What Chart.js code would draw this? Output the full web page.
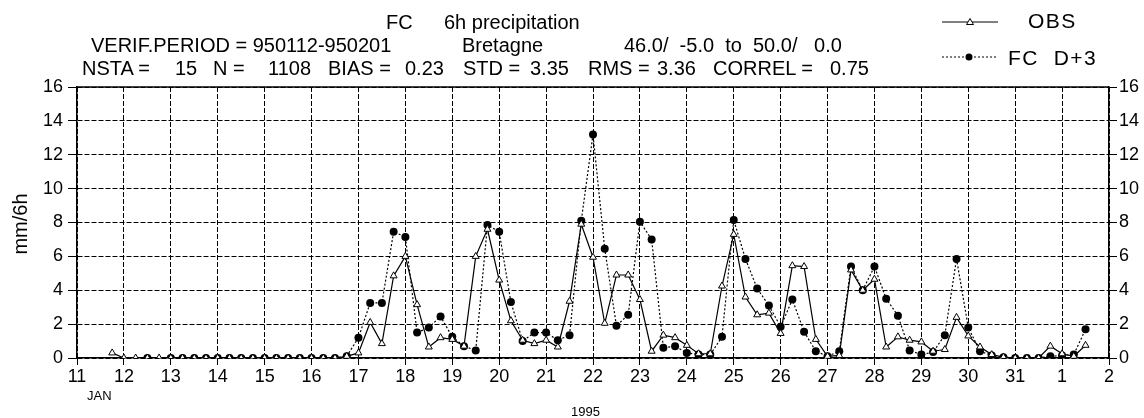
<!DOCTYPE html>
<html lang="en">
<head>
    <meta charset="UTF-8">
    <title>FC 6h precipitation - Bretagne</title>
    <script src="https://cdn.jsdelivr.net/npm/chart.js@4.4.0/dist/chart.umd.min.js"></script>
    <style>
        body { margin: 0; background: #fff; }
        #wrap {
            position: relative;
            width: 1144px;
            height: 418px;
            font-family: "Liberation Sans", Arial, sans-serif;
            color: #000;
        }
        #chart { position: absolute; left: 0; top: 0; }
        .t { position: absolute; font-size: 20px; line-height: 20px; white-space: pre; }
        .small { font-size: 13px; line-height: 13px; }
        .leg { font-size: 21px; line-height: 21px; letter-spacing: 1.5px; }
        #ylab {
            left: -20px; top: 214px; width: 80px;
            text-align: center;
            transform: rotate(-90deg);
        }
    </style>
</head>
<body>
<div id="wrap">
    <canvas id="chart" width="1144" height="418"></canvas>

    <!-- header -->
    <div class="t" style="left:386px;top:12px">FC</div>
    <div class="t" style="left:444px;top:12px">6h precipitation</div>
    <div class="t" style="left:91px;top:35px">VERIF.PERIOD = 950112-950201</div>
    <div class="t" style="left:462px;top:35px">Bretagne</div>
    <div class="t" style="left:624px;top:35px">46.0/  -5.0  to  50.0/   0.0</div>

    <div class="t" style="left:82px;top:58px">NSTA =</div>
    <div class="t" style="left:175px;top:58px">15</div>
    <div class="t" style="left:213px;top:58px">N =</div>
    <div class="t" style="left:268px;top:58px">1108</div>
    <div class="t" style="left:328px;top:58px">BIAS =</div>
    <div class="t" style="left:405px;top:58px">0.23</div>
    <div class="t" style="left:463px;top:58px">STD =</div>
    <div class="t" style="left:530px;top:58px">3.35</div>
    <div class="t" style="left:588px;top:58px">RMS =</div>
    <div class="t" style="left:657px;top:58px">3.36</div>
    <div class="t" style="left:713px;top:58px">CORREL =</div>
    <div class="t" style="left:830px;top:58px">0.75</div>

    <!-- legend text -->
    <div class="t leg" style="left:1028px;top:10px">OBS</div>
    <div class="t leg" style="left:1008px;top:47px">FC  D+3</div>

    <!-- axis labels -->
    <div class="t" id="ylab">mm/6h</div>
    <div class="t small" style="left:87px;top:389px">JAN</div>
    <div class="t small" style="left:571px;top:405px">1995</div>
</div>

<script>
    // 6-hourly values, first step = 11 Jan 18 UTC
    const firstStep = 11.75;
    const stepDays = 0.25;

    const dayLabels = ["11", "12", "13", "14", "15", "16", "17", "18", "19", "20", "21",
        "22", "23", "24", "25", "26", "27", "28", "29", "30", "31", "1", "2"];

    // observed (mm/6h)
    const obs = [
        0.3, 0, 0, 0, 0,
        0, 0, 0, 0, 0, 0, 0, 0, 0, 0, 0, 0, 0, 0, 0,
        0.1, 0.3, 2.1, 0.85, 4.85, 6.0, 3.15, 0.65, 1.2, 1.1,
        0.7, 6.0, 7.6, 4.6, 2.2, 1.05, 0.85, 1.05, 0.65, 3.35,
        7.9, 5.95, 2.05, 4.9, 4.9, 3.45, 0.4, 1.35, 1.2, 0.75,
        0.25, 0.25, 4.25, 7.3, 3.6, 2.55, 2.65, 1.45, 5.45, 5.4,
        1.1, 0.1, 0.15, 5.2, 4.0, 4.65, 0.65, 1.25, 1.05, 0.95,
        0.4, 0.5, 2.4, 1.3, 0.65, 0.2, 0.05, 0, 0, 0,
        0.7, 0.25, 0.1, 0.75
    ];

    // forecast D+3 (mm/6h)
    const fcD3 = [
        null, null, null, 0, null,
        0, 0, 0, 0, 0, 0, 0, 0, 0, 0, 0, 0, 0, 0, 0,
        0.1, 1.2, 3.25, 3.25, 7.45, 7.15, 1.5, 1.8, 2.45, 1.25,
        0.7, 0.45, 7.85, 7.45, 3.3, 1.0, 1.5, 1.5, 1.05, 1.35,
        8.1, 13.2, 6.45, 1.9, 2.55, 8.05, 7.0, 0.6, 0.7, 0.3,
        0.2, 0.2, 1.25, 8.15, 5.85, 4.1, 3.1, 1.85, 3.45, 1.55,
        0.4, 0.1, 0.4, 5.4, 4.0, 5.4, 3.5, 2.5, 0.45, 0.2,
        0.35, 1.35, 5.85, 1.8, 0.4, 0.15, 0.05, 0, 0, 0,
        0.1, 0.15, 0.2, 1.7
    ];

    const toPoints = vals => vals.map((v, i) => ({ x: firstStep + i * stepDays, y: v }));

    const tickFont = { family: "Liberation Sans", size: 18 };

    // frame top line + legend samples
    const frame = {
        id: "frame",
        afterDraw(chart) {
            const c = chart.ctx;
            const a = chart.chartArea;
            c.save();
            c.strokeStyle = "#000";
            c.lineWidth = 1.5;
            c.beginPath();
            c.moveTo(a.left, a.top);
            c.lineTo(a.right, a.top);
            c.stroke();

            c.lineWidth = 1;
            c.beginPath();
            c.moveTo(942, 22);
            c.lineTo(998, 22);
            c.stroke();
            c.fillStyle = "#fff";
            c.beginPath();
            c.moveTo(970, 18.5);
            c.lineTo(973.5, 24.5);
            c.lineTo(966.5, 24.5);
            c.closePath();
            c.fill();
            c.stroke();

            c.setLineDash([2, 2]);
            c.beginPath();
            c.moveTo(942, 57);
            c.lineTo(998, 57);
            c.stroke();
            c.setLineDash([]);
            c.fillStyle = "#000";
            c.beginPath();
            c.arc(969, 57, 3.5, 0, Math.PI * 2);
            c.fill();
            c.restore();
        }
    };

    const ctx = document.getElementById("chart").getContext("2d");
    new Chart(ctx, {
        type: "line",
        data: {
            datasets: [
                {
                    label: "OBS",
                    data: toPoints(obs),
                    borderColor: "#000",
                    borderWidth: 1.2,
                    pointStyle: "triangle",
                    pointRadius: 4,
                    pointBackgroundColor: "#fff",
                    pointBorderColor: "#000",
                    pointBorderWidth: 1,
                    tension: 0,
                    clip: 0
                },
                {
                    label: "FC D+3",
                    data: toPoints(fcD3),
                    borderColor: "#000",
                    borderWidth: 1.2,
                    borderDash: [2, 2],
                    pointStyle: "circle",
                    pointRadius: 4,
                    pointBackgroundColor: "#000",
                    pointBorderColor: "#000",
                    pointBorderWidth: 0,
                    tension: 0,
                    clip: 0
                }
            ]
        },
        options: {
            responsive: false,
            animation: false,
            devicePixelRatio: 1,
            layout: { padding: { top: 87, left: 0, right: 0, bottom: 0 } },
            plugins: {
                legend: { display: false },
                tooltip: { enabled: false }
            },
            scales: {
                x: {
                    type: "linear",
                    min: 11,
                    max: 33,
                    afterFit: s => { s.height = 60; },
                    ticks: {
                        stepSize: 1,
                        autoSkip: false,
                        maxRotation: 0,
                        padding: 1,
                        color: "#000",
                        font: tickFont,
                        callback: v => dayLabels[v - 11]
                    },
                    grid: { color: "#000", lineWidth: 1, tickLength: 7, tickColor: "#000", tickBorderDash: [] },
                    border: { color: "#000", width: 1.5, dash: [5, 2] }
                },
                y: {
                    min: 0,
                    max: 16,
                    afterFit: s => { s.width = 77; },
                    ticks: { stepSize: 2, padding: 5, color: "#000", font: tickFont },
                    grid: { color: "#000", lineWidth: 1, tickLength: 9, tickColor: "#000", tickBorderDash: [] },
                    border: { color: "#000", width: 1.5, dash: [5, 2] }
                },
                y2: {
                    position: "right",
                    min: 0,
                    max: 16,
                    afterFit: s => { s.width = 35; },
                    ticks: { stepSize: 2, padding: 2, color: "#000", font: tickFont },
                    grid: { drawOnChartArea: false, tickLength: 8, tickColor: "#000", tickBorderDash: [] },
                    border: { color: "#000", width: 1.5 }
                }
            }
        },
        plugins: [frame]
    });
</script>
</body>
</html>
